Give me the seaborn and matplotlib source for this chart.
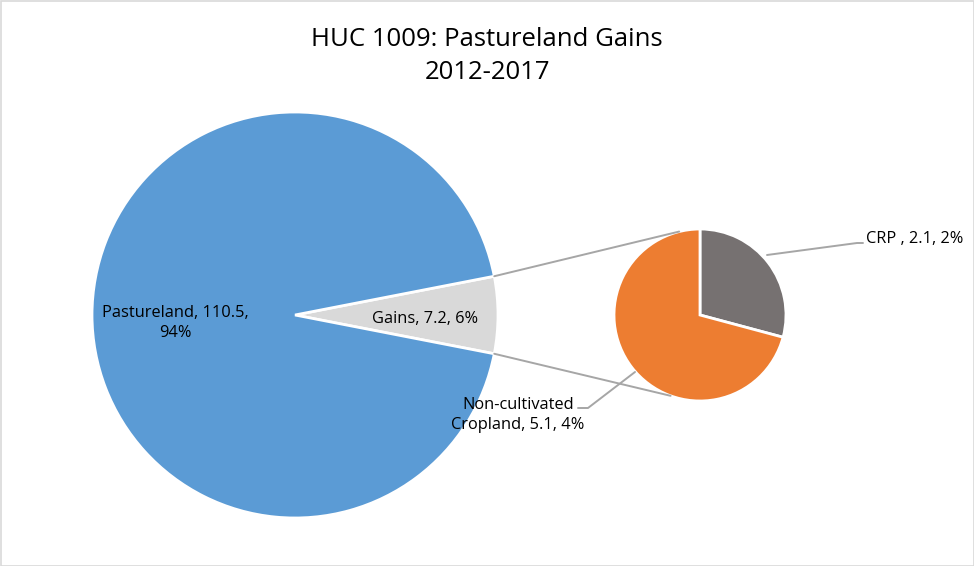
import numpy as np
import matplotlib
matplotlib.use("Agg")
import matplotlib.pyplot as plt
from matplotlib.patches import Rectangle
import seaborn as sns

# Data
main_labels = ["Gains", "Pastureland"]
main_values = [7.2, 110.5]
main_pcts = ["6%", "94%"]
sub_labels = ["CRP ", "Non-cultivated\nCropland"]
sub_values = [2.1, 5.1]
sub_pcts = ["2%", "4%"]
title = "HUC 1009: Pastureland Gains\n2012-2017"

sns.set_theme(style="white")
plt.rcParams['font.family'] = ['Open Sans', 'DejaVu Sans']

main_colors = ["#D9D9D9", "#5B9BD5"]
sub_colors = ["#767171", "#ED7D31"]

W, H = 974, 566
fig = plt.figure(figsize=(W / 100, H / 100), dpi=100)
ax = fig.add_axes([0, 0, 1, 1])

mc = (295, H - 315)
mr = 203
sc = (700, H - 315)
sr = 86

gains_angle = main_values[0] / sum(main_values) * 360
ax.pie(main_values, colors=main_colors, center=mc, radius=mr,
       startangle=-gains_angle / 2, counterclock=True,
       wedgeprops=dict(edgecolor="white", linewidth=2), frame=True)
ax.pie(sub_values, colors=sub_colors, center=sc, radius=sr,
       startangle=90, counterclock=False,
       wedgeprops=dict(edgecolor="white", linewidth=2), frame=True)
ax.set_xlim(0, W)
ax.set_ylim(0, H)
ax.set_aspect('equal')
ax.axis('off')

# connector lines
line_c = "#A6A6A6"
a1 = np.deg2rad(gains_angle / 2)
p_top = (mc[0] + mr * np.cos(a1), mc[1] + mr * np.sin(a1))
p_bot = (mc[0] + mr * np.cos(-a1), mc[1] + mr * np.sin(-a1))
t_top = np.deg2rad(104)
t_bot = np.deg2rad(-110)
q_top = (sc[0] + sr * np.cos(t_top), sc[1] + sr * np.sin(t_top))
q_bot = (sc[0] + sr * np.cos(t_bot), sc[1] + sr * np.sin(t_bot))
ax.plot([p_top[0], q_top[0]], [p_top[1], q_top[1]], color=line_c, lw=1.4)
ax.plot([p_bot[0], q_bot[0]], [p_bot[1], q_bot[1]], color=line_c, lw=1.4)

fs = 11.8
tc = "#000000"
ax.text(175, H - 323, f"{main_labels[1]}, {main_values[1]},\n{main_pcts[1]}",
        ha='center', va='center', fontsize=fs, color=tc, linespacing=1.4)
ax.text(425, H - 319, f"{main_labels[0]}, {main_values[0]}, {main_pcts[0]}",
        ha='center', va='center', fontsize=fs, color=tc)

# sub labels with leader lines
ax.text(518, H - 415, f"{sub_labels[1]}, {sub_values[1]}, {sub_pcts[1]}",
        ha='center', va='center', fontsize=fs, color=tc, linespacing=1.4)
ax.plot([578, 588, 635], [H - 408, H - 408, H - 372], color=line_c, lw=1.4)

ax.text(866, H - 239, f"{sub_labels[0]}, {sub_values[0]}, {sub_pcts[0]}",
        ha='left', va='center', fontsize=fs, color=tc)
ax.plot([767, 857, 863], [H - 255, H - 243, H - 243], color=line_c, lw=1.4)

ax.text(W / 2, H - 56, title, ha='center', va='center', fontsize=18.5,
        color="#000000", linespacing=1.45)

ax.add_patch(Rectangle((0.5, 0.5), W - 1, H - 1, fill=False,
                       edgecolor="#D9D9D9", lw=1.2))

fig.savefig("out.png", dpi=100, facecolor="white")
